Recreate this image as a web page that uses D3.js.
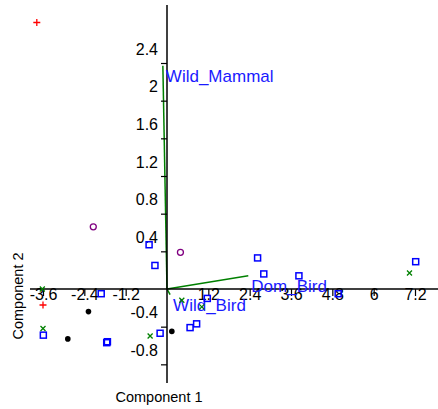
<!DOCTYPE html>
<html lang="en">
  <head>
    <meta charset="UTF-8" />
    <script src="https://d3js.org/d3.v7.min.js"></script>
    <title>PCA biplot</title>
    <style>
      body {
        margin: 0;
        background: #fff;
      }
      text {
        font-family: "Liberation Sans", Arial, sans-serif;
      }
    </style>
  </head>
  <body>
    <svg id="chart" width="438" height="409"></svg>
    <script>
      const width = 438;
      const height = 409;

      // tick values
      const xTicks = [-3.6, -2.4, -1.2, 1.2, 2.4, 3.6, 4.8, 6, 7.2];
      const yTicks = [-0.8, -0.4, 0.4, 0.8, 1.2, 1.6, 2, 2.4];

      // scores, one array per group
      const redPlus = [[-3.78, 2.83], [-3.60, -0.17]];
      const purpleCircles = [[-2.14, 0.66], [0.39, 0.39]];
      const blackDots = [[-2.28, -0.24], [-2.88, -0.53], [0.14, -0.45]];
      const greenCross = [
        [-3.62, 0.0], [-3.60, -0.42], [-0.49, -0.50],
        [0.43, -0.12], [1.01, -0.19], [7.04, 0.17]
      ];
      const blueSquares = [
        [-0.52, 0.47], [-0.35, 0.25], [-1.91, -0.05], [-3.59, -0.49],
        [-1.75, -0.57], [-1.73, -0.56], [-0.20, -0.47], [1.17, -0.10],
        [0.67, -0.41], [0.86, -0.37], [2.63, 0.33], [2.81, 0.16],
        [3.83, 0.14], [4.97, -0.05], [7.22, 0.29]
      ];

      // loadings
      const vectorNames = ["Wild_Mammal", "Dom_Bird", "Wild_Bird"];
      const vectorX = [-0.12, 2.36, 0.09];
      const vectorY = [2.37, 0.14, -0.06];

      const x = d3.scaleLinear().domain([0, 7.2]).range([167, 415]);
      const y = d3.scaleLinear().domain([0, 2.4]).range([289, 63]);

      const svg = d3.select("#chart");

      // vectors first, under the axes
      const vectors = vectorNames.map((n, i) => ({ name: n, x: vectorX[i], y: vectorY[i] }));
      svg.selectAll(".vec")
        .data(vectors)
        .join("line")
        .attr("class", "vec")
        .attr("x1", x(0))
        .attr("y1", y(0))
        .attr("x2", d => x(d.x))
        .attr("y2", d => y(d.y))
        .attr("stroke", "#008000")
        .attr("stroke-width", 1.5);

      // axis lines, longer than the tick range
      svg.append("line")
        .attr("x1", 30).attr("x2", width)
        .attr("y1", y(0)).attr("y2", y(0))
        .attr("stroke", "#000").attr("stroke-width", 1.5);
      svg.append("line")
        .attr("x1", x(0)).attr("x2", x(0))
        .attr("y1", 5).attr("y2", 383)
        .attr("stroke", "#000").attr("stroke-width", 1.5);

      const xAxis = svg.append("g")
        .attr("transform", `translate(0,${y(0)})`)
        .call(d3.axisBottom(x).tickValues(xTicks).tickSize(7).tickSizeOuter(0).tickFormat(d => String(d)));
      xAxis.select(".domain").remove();
      xAxis.selectAll(".tick line").attr("stroke", "#000").attr("stroke-width", 1.2);
      xAxis.selectAll(".tick text")
        .attr("y", 10.5).attr("dy", 0)
        .attr("font-size", 16)
        .attr("font-family", "Liberation Sans, Arial, sans-serif")
        .attr("fill", "#000");

      const yAxis = svg.append("g")
        .attr("transform", `translate(${x(0)},0)`)
        .call(d3.axisLeft(y).tickValues(yTicks).tickSize(6).tickSizeOuter(0).tickFormat(d => String(d)));
      yAxis.select(".domain").remove();
      yAxis.selectAll(".tick line").attr("stroke", "#000").attr("stroke-width", 1.2);
      yAxis.selectAll(".tick text")
        .attr("x", -9).attr("y", -9).attr("dy", 0)
        .attr("font-size", 16)
        .attr("font-family", "Liberation Sans, Arial, sans-serif")
        .attr("fill", "#000");

      // vector labels
      svg.selectAll(".vec-label")
        .data(vectors)
        .join("text")
        .attr("class", "vec-label")
        .attr("x", d => x(d.x) + 3)
        .attr("y", d => y(d.y) + 16)
        .attr("font-size", 17)
        .attr("fill", "#1a1aff")
        .text(d => d.name);

      // markers
      svg.selectAll(".sq")
        .data(blueSquares)
        .join("rect")
        .attr("x", d => x(d[0]) - 3)
        .attr("y", d => y(d[1]) - 3)
        .attr("width", 6)
        .attr("height", 6)
        .attr("fill", "none")
        .attr("stroke", "#0000ff")
        .attr("stroke-width", 1.5);

      svg.selectAll(".circ")
        .data(purpleCircles)
        .join("circle")
        .attr("cx", d => x(d[0]))
        .attr("cy", d => y(d[1]))
        .attr("r", 3)
        .attr("fill", "none")
        .attr("stroke", "#800080")
        .attr("stroke-width", 1.3);

      svg.selectAll(".dot")
        .data(blackDots)
        .join("circle")
        .attr("cx", d => x(d[0]))
        .attr("cy", d => y(d[1]))
        .attr("r", 2.8)
        .attr("fill", "#000");

      svg.selectAll(".plus")
        .data(redPlus)
        .join("path")
        .attr("transform", d => `translate(${x(d[0])},${y(d[1])})`)
        .attr("d", "M-3.5,0H3.5M0,-3.5V3.5")
        .attr("stroke", "#ff0000")
        .attr("stroke-width", 1.3);

      svg.selectAll(".cross")
        .data(greenCross)
        .join("path")
        .attr("transform", d => `translate(${x(d[0])},${y(d[1])})`)
        .attr("d", "M-2.5,-2.5L2.5,2.5M-2.5,2.5L2.5,-2.5")
        .attr("stroke", "#008000")
        .attr("stroke-width", 1.3);

      // axis titles
      svg.append("text")
        .attr("x", 159)
        .attr("y", 402)
        .attr("text-anchor", "middle")
        .attr("font-size", 14.5)
        .attr("fill", "#000")
        .text("Component 1");

      svg.append("text")
        .attr("transform", "translate(23,296) rotate(-90)")
        .attr("text-anchor", "middle")
        .attr("font-size", 14.5)
        .attr("fill", "#000")
        .text("Component 2");
    </script>
  </body>
</html>
